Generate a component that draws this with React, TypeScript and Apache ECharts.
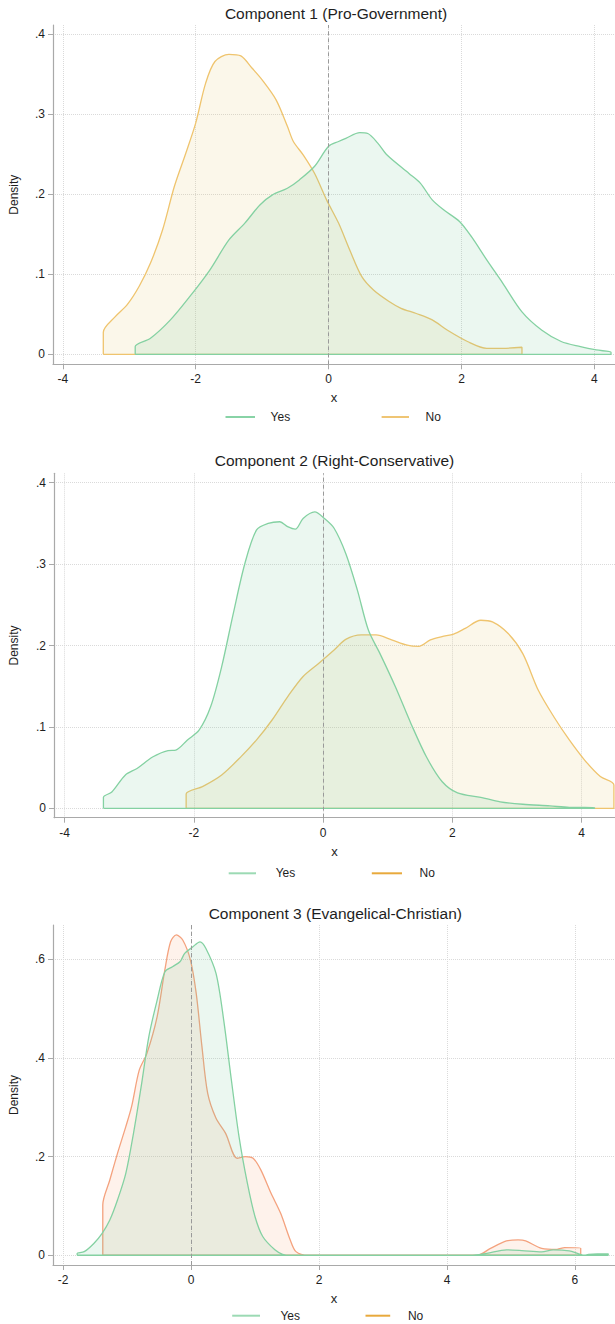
import React, { useEffect, useRef } from "react";
import * as echarts from "echarts";

// ---------- data ----------
const titles = [
  "Component 1 (Pro-Government)",
  "Component 2 (Right-Conservative)",
  "Component 3 (Evangelical-Christian)",
];
const seriesNames = ["Yes", "No"];
const xAxisTitle = "x";
const yAxisTitle = "Density";

const xTicksA = [-4, -2, 0, 2, 4];
const xTicksB = [-2, 0, 2, 4, 6];
const yTicksA = [0, 0.1, 0.2, 0.3, 0.4];
const yTicksB = [0, 0.2, 0.4, 0.6];

const yes1: [number, number][] = [
  [-2.91, 0.0096], [-2.68, 0.02], [-2.38, 0.043], [-2.09, 0.072], [-1.79, 0.105],
  [-1.5, 0.143], [-1.26, 0.164], [-1.03, 0.187], [-0.85, 0.199], [-0.62, 0.2075],
  [-0.44, 0.218], [-0.21, 0.235], [0, 0.26], [0.15, 0.266], [0.26, 0.27],
  [0.47, 0.277], [0.59, 0.276], [0.74, 0.264], [0.88, 0.249], [1.21, 0.226],
  [1.38, 0.214], [1.56, 0.193], [1.74, 0.18], [1.97, 0.166], [2.15, 0.147],
  [2.38, 0.118], [2.62, 0.089], [2.91, 0.053], [3.21, 0.03], [3.5, 0.016],
  [3.79, 0.0096], [4.03, 0.0054], [4.25, 0.0025],
];
const no1: [number, number][] = [
  [-3.39, 0.0275], [-3.21, 0.047], [-3.03, 0.062], [-2.85, 0.085], [-2.68, 0.114],
  [-2.5, 0.155], [-2.32, 0.21], [-2.15, 0.251], [-2.0, 0.289], [-1.85, 0.339],
  [-1.71, 0.366], [-1.5, 0.375], [-1.32, 0.373], [-1.15, 0.3575], [-1.0, 0.343],
  [-0.79, 0.318], [-0.62, 0.285], [-0.53, 0.266], [-0.38, 0.249], [-0.21, 0.226],
  [-0.03, 0.193], [0.15, 0.164], [0.32, 0.13], [0.5, 0.097], [0.68, 0.08],
  [0.91, 0.066], [1.09, 0.0575], [1.32, 0.051], [1.56, 0.043], [1.79, 0.03],
  [2.09, 0.016], [2.38, 0.0075], [2.62, 0.0075], [2.91, 0.0088],
];
const yes2: [number, number][] = [
  [-3.4, 0.0135], [-3.27, 0.02], [-3.06, 0.041], [-2.88, 0.049], [-2.64, 0.063],
  [-2.4, 0.071], [-2.28, 0.0716], [-2.1, 0.084], [-1.92, 0.096], [-1.74, 0.125],
  [-1.57, 0.174], [-1.39, 0.2395], [-1.21, 0.301], [-1.03, 0.342], [-0.85, 0.35],
  [-0.67, 0.352], [-0.55, 0.346], [-0.43, 0.343], [-0.31, 0.356], [-0.13, 0.364],
  [0.02, 0.356], [0.17, 0.344], [0.35, 0.313], [0.53, 0.268], [0.7, 0.219],
  [0.88, 0.19], [1.12, 0.149], [1.36, 0.104], [1.6, 0.063], [1.84, 0.033],
  [2.08, 0.019], [2.44, 0.0135], [2.74, 0.008], [3.09, 0.005], [3.51, 0.003],
  [3.81, 0.0012], [4.2, 0.001],
];
const no2: [number, number][] = [
  [-2.12, 0.0176], [-1.86, 0.027], [-1.57, 0.041], [-1.27, 0.0635], [-1.03, 0.084],
  [-0.79, 0.1085], [-0.55, 0.137], [-0.31, 0.162], [-0.07, 0.178], [0.17, 0.1945],
  [0.35, 0.2075], [0.59, 0.213], [0.82, 0.213], [1.06, 0.207], [1.3, 0.2005],
  [1.48, 0.199], [1.66, 0.207], [1.84, 0.211], [2.02, 0.214], [2.2, 0.221],
  [2.44, 0.231], [2.62, 0.229], [2.86, 0.215], [3.09, 0.19], [3.33, 0.145],
  [3.57, 0.1125], [3.81, 0.084], [4.05, 0.059], [4.29, 0.039], [4.5, 0.0287],
];
const yes3: [number, number][] = [
  [-1.78, 0.004], [-1.67, 0.0074], [-1.52, 0.024], [-1.39, 0.0445], [-1.27, 0.0715],
  [-1.15, 0.112], [-1.02, 0.166], [-0.9, 0.247], [-0.78, 0.3415], [-0.66, 0.443],
  [-0.53, 0.517], [-0.41, 0.574], [-0.29, 0.5845], [-0.17, 0.595], [-0.1, 0.6115],
  [0.02, 0.624], [0.14, 0.635], [0.23, 0.622], [0.39, 0.571], [0.51, 0.4765],
  [0.63, 0.355], [0.75, 0.24], [0.88, 0.146], [1.0, 0.078], [1.12, 0.038],
  [1.31, 0.011], [1.43, 0.002], [1.55, 0], [4.37, 0], [4.62, 0.004],
  [4.93, 0.011], [5.17, 0.0095], [5.48, 0.0067], [5.66, 0.011], [5.91, 0.009],
  [6.06, 0.003], [6.15, 0], [6.21, 0.002], [6.35, 0.003], [6.52, 0.003],
];
const no3: [number, number][] = [
  [-1.38, 0.102], [-1.27, 0.1525], [-1.15, 0.2065], [-1.02, 0.2605], [-0.93, 0.301],
  [-0.81, 0.375], [-0.69, 0.409], [-0.53, 0.4835], [-0.41, 0.578], [-0.32, 0.635],
  [-0.23, 0.649], [-0.13, 0.6385], [-0.01, 0.598], [0.08, 0.531], [0.17, 0.4225],
  [0.26, 0.328], [0.39, 0.2775], [0.54, 0.247], [0.72, 0.1965], [0.85, 0.2],
  [0.97, 0.1965], [1.09, 0.173], [1.25, 0.1255], [1.4, 0.085], [1.55, 0.031],
  [1.64, 0.0074], [1.83, 0], [4.47, 0], [4.68, 0.014], [4.93, 0.029],
  [5.11, 0.031], [5.23, 0.029], [5.48, 0.014], [5.72, 0.012], [5.84, 0.0155],
  [6.09, 0.014],
];

// ---------- layout / style ----------
const FONT = "'Liberation Sans', Arial, Helvetica, sans-serif";
const TEXT = "#1e1e1e";
const AXIS = "#a9a9a9";
const GRIDC = "#dadada";
const YES_FILL = "rgba(110,200,150,0.2)";
const NO_FILL_A = "rgba(230,195,105,0.2)";
const NO_FILL_B = "rgba(245,160,110,0.2)";

const panels = [
  {
    title: titles[0], titleX: 336, titleY: 5,
    grid: { left: 51, top: 25, width: 564, height: 339.3 },
    xMin: -4.147, xMax: 4.31, yMin: -0.0125, yMax: 0.4116,
    xTicks: xTicksA, yTicks: yTicksA, yGap: 33,
    yes: yes1, no: no1,
    yesLine: "#84d1a2", yesFill: YES_FILL,
    noLine: "#efc46e", noFill: NO_FILL_A,
    legendY: 417, legend: [225.5, 255, 270.6, 381.6, 409, 425.5],
    legYes: "#88d3a6", legNo: "#efc574",
  },
  {
    title: titles[1], titleX: 334.5, titleY: 452.7,
    grid: { left: 45.1, top: 473.3, width: 569.9, height: 344.4 },
    xMin: -4.165, xMax: 4.517, yMin: -0.0115, yMax: 0.4115,
    xTicks: xTicksA, yTicks: yTicksA, yGap: 34,
    yes: yes2, no: no2,
    yesLine: "#84d1a2", yesFill: YES_FILL,
    noLine: "#efc46e", noFill: NO_FILL_A,
    legendY: 873.3, legend: [228.7, 256, 275.7, 371.8, 402, 419.6],
    legYes: "#9cdab4", legNo: "#e8a93c",
  },
  {
    title: titles[2], titleX: 335.3, titleY: 905.3,
    grid: { left: 52.9, top: 925, width: 562.1, height: 340 },
    xMin: -2.158, xMax: 6.626, yMin: -0.0197, yMax: 0.669,
    xTicks: xTicksB, yTicks: yTicksB, yGap: 33,
    yes: yes3, no: no3,
    yesLine: "#84d1a2", yesFill: YES_FILL,
    noLine: "#f4a27e", noFill: NO_FILL_B,
    legendY: 1315.7, legend: [232.2, 260, 280.4, 365.5, 390.2, 407.9],
    legYes: "#9cdab4", legNo: "#e8a93c",
  },
];

function closeShape(pts: [number, number][]) {
  const x0 = pts[0][0];
  const xn = pts[pts.length - 1][0];
  return [[x0, 0], ...pts, [xn, 0], [x0, 0]];
}

function yFmt(v: number) {
  if (Math.abs(v) < 1e-9) return "0";
  return String(Math.round(v * 10) / 10).replace(/^0\./, ".");
}

function buildOption() {
  const title: any[] = [];
  const grid: any[] = [];
  const xAxis: any[] = [];
  const yAxis: any[] = [];
  const series: any[] = [];
  const graphic: any[] = [];

  panels.forEach((p, i) => {
    title.push({
      text: p.title,
      left: p.titleX,
      top: p.titleY,
      textAlign: "center",
      padding: 0,
      textStyle: { fontFamily: FONT, fontSize: 15.5, fontWeight: "normal", color: TEXT },
    });
    grid.push({ ...p.grid, containLabel: false });
    xAxis.push({
      type: "value",
      gridIndex: i,
      min: p.xMin,
      max: p.xMax,
      name: xAxisTitle,
      nameLocation: "middle",
      nameGap: 27,
      nameTextStyle: { fontFamily: FONT, fontSize: 13, color: TEXT },
      axisLine: { show: true, onZero: false, lineStyle: { color: AXIS, width: 1.2 } },
      axisTick: { show: true, length: 5, customValues: p.xTicks, lineStyle: { color: AXIS, width: 1 } },
      axisLabel: {
        customValues: p.xTicks,
        margin: 9,
        fontFamily: FONT,
        fontSize: 12,
        color: TEXT,
        formatter: (v: number) => String(v),
      },
      splitLine: { show: true, lineStyle: { type: "dotted", color: GRIDC, width: 1 } },
    });
    yAxis.push({
      type: "value",
      gridIndex: i,
      min: p.yMin,
      max: p.yMax,
      name: yAxisTitle,
      nameLocation: "middle",
      nameRotate: 90,
      nameGap: p.yGap,
      nameTextStyle: { fontFamily: FONT, fontSize: 12, color: TEXT },
      axisLine: { show: true, onZero: false, lineStyle: { color: AXIS, width: 1.2 } },
      axisTick: { show: true, length: 5, customValues: p.yTicks, lineStyle: { color: AXIS, width: 1 } },
      axisLabel: {
        customValues: p.yTicks,
        margin: 8,
        fontFamily: FONT,
        fontSize: 12,
        color: TEXT,
        formatter: (v: number) => yFmt(v),
      },
      splitLine: { show: true, lineStyle: { type: "dotted", color: GRIDC, width: 1 } },
    });
    series.push({
      type: "line",
      name: seriesNames[0],
      xAxisIndex: i,
      yAxisIndex: i,
      data: closeShape(p.yes),
      symbol: "none",
      showSymbol: false,
      smooth: 0.3,
      lineStyle: { color: p.yesLine, width: 1.3 },
      itemStyle: { color: p.yesLine },
      areaStyle: { color: p.yesFill },
      markLine: {
        silent: true,
        symbol: "none",
        label: { show: false },
        lineStyle: { type: [4, 3], color: "#9a9a9a", width: 1 },
        data: [{ xAxis: 0 }],
      },
      z: 3,
    });
    series.push({
      type: "line",
      name: seriesNames[1],
      xAxisIndex: i,
      yAxisIndex: i,
      data: closeShape(p.no),
      symbol: "none",
      showSymbol: false,
      smooth: 0.3,
      lineStyle: { color: p.noLine, width: 1.3 },
      itemStyle: { color: p.noLine },
      areaStyle: { color: p.noFill },
      z: 2,
    });
    const [l1, l2, t1, l3, l4, t2] = p.legend;
    graphic.push(
      { type: "line", shape: { x1: l1, y1: p.legendY, x2: l2, y2: p.legendY }, style: { stroke: p.legYes, lineWidth: 2 } },
      { type: "text", x: t1, y: p.legendY, style: { text: seriesNames[0], fill: TEXT, font: `12px ${FONT}`, verticalAlign: "middle", align: "left" } },
      { type: "line", shape: { x1: l3, y1: p.legendY, x2: l4, y2: p.legendY }, style: { stroke: p.legNo, lineWidth: 2 } },
      { type: "text", x: t2, y: p.legendY, style: { text: seriesNames[1], fill: TEXT, font: `12px ${FONT}`, verticalAlign: "middle", align: "left" } }
    );
  });

  return {
    animation: false,
    backgroundColor: "#ffffff",
    textStyle: { fontFamily: FONT },
    title,
    grid,
    xAxis,
    yAxis,
    series,
    graphic,
  };
}

export default function App() {
  const ref = useRef<HTMLDivElement>(null);
  useEffect(() => {
    if (!ref.current) return;
    const chart = echarts.init(ref.current, undefined, { renderer: "svg" });
    chart.setOption(buildOption() as any);
    return () => chart.dispose();
  }, []);
  return (
    <div
      ref={ref}
      style={{ position: "absolute", left: 0, top: 0, width: 615, height: 1324, background: "#fff" }}
    />
  );
}
